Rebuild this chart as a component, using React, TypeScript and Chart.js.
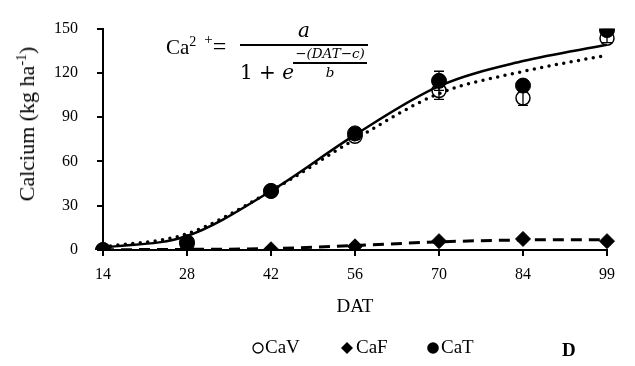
import React, { useEffect, useRef } from "react";
import { Chart, registerables } from "chart.js";

Chart.register(...registerables);

const categories = ["14", "28", "42", "56", "70", "84", "99"];
const caV = [0, 4, 40, 77, 108, 103, 143.5];
const caVErr = [0, 1, 1.5, 2, 6, 5, 3];
const caF = [0, 0, 0.5, 2.5, 6, 7.5, 6];
const caT = [0, 5.3, 40, 79, 114.6, 111.4, 149];
const caTErr = [0, 1, 1.5, 2, 6.5, 3, 0.5];
const fitCaV = [2, 11, 40, 75, 106, 121, 132];
const fitCaT = [1.5, 9.5, 40, 78, 111, 128, 139];
const fitCaF = [0.2, 0.4, 1, 3, 5.5, 6.8, 7];
const yTicks = [0, 30, 60, 90, 120, 150];

const FONT = "'Liberation Serif', 'Times New Roman', serif";

const errorBars = {
  id: "errorBars",
  afterDatasetsDraw(chart: any) {
    const ctx = chart.ctx;
    const y = chart.scales.y;
    const pairs: [number, number[]][] = [
      [0, caVErr],
      [2, caTErr],
    ];
    ctx.save();
    ctx.strokeStyle = "#000";
    ctx.lineWidth = 1.3;
    pairs.forEach(([di, errs]) => {
      const meta = chart.getDatasetMeta(di);
      const data = chart.data.datasets[di].data as number[];
      meta.data.forEach((pt: any, i: number) => {
        const e = errs[i];
        if (!e) return;
        const x = pt.x;
        const yTop = y.getPixelForValue(data[i] + e);
        const yBot = y.getPixelForValue(data[i] - e);
        ctx.beginPath();
        ctx.moveTo(x, yTop);
        ctx.lineTo(x, yBot);
        ctx.moveTo(x - 5, yTop);
        ctx.lineTo(x + 5, yTop);
        ctx.moveTo(x - 5, yBot);
        ctx.lineTo(x + 5, yBot);
        ctx.stroke();
      });
    });
    ctx.restore();
  },
};

const customLegend = {
  id: "customLegend",
  afterDraw(chart: any) {
    const ctx = chart.ctx;
    ctx.save();
    ctx.font = `19px ${FONT}`;
    ctx.textBaseline = "middle";
    ctx.fillStyle = "#000";
    const cy = 348;
    // CaV
    ctx.lineWidth = 1.3;
    ctx.strokeStyle = "#000";
    ctx.beginPath();
    ctx.arc(258, cy, 5, 0, Math.PI * 2);
    ctx.stroke();
    ctx.fillText(chart.data.datasets[0].label, 265, cy);
    // CaF
    ctx.beginPath();
    ctx.moveTo(347, cy - 6);
    ctx.lineTo(353, cy);
    ctx.lineTo(347, cy + 6);
    ctx.lineTo(341, cy);
    ctx.closePath();
    ctx.fill();
    ctx.fillText(chart.data.datasets[1].label, 356, cy);
    // CaT
    ctx.beginPath();
    ctx.arc(433, cy, 5.8, 0, Math.PI * 2);
    ctx.fill();
    ctx.fillText(chart.data.datasets[2].label, 441, cy);
    // panel letter
    ctx.font = `bold 19px ${FONT}`;
    ctx.fillText("D", 562, cy + 3);
    ctx.restore();
  },
};

export default function App() {
  const ref = useRef<HTMLCanvasElement>(null);

  useEffect(() => {
    document.body.style.margin = "0";
    const chart = new Chart(ref.current as HTMLCanvasElement, {
      type: "line",
      data: {
        labels: categories,
        datasets: [
          {
            label: "CaV",
            data: caV,
            showLine: false,
            pointStyle: "circle",
            pointRadius: 7,
            pointBackgroundColor: "rgba(255,255,255,0)",
            pointBorderColor: "#000",
            pointBorderWidth: 1.5,
            order: 3,
          },
          {
            label: "CaF",
            data: caF,
            showLine: false,
            pointStyle: "rectRot",
            pointRadius: 7.5,
            pointBackgroundColor: "#000",
            pointBorderColor: "#000",
            pointBorderWidth: 1,
            order: 2,
          },
          {
            label: "CaT",
            data: caT,
            showLine: false,
            pointStyle: "circle",
            pointRadius: 7.5,
            pointBackgroundColor: "#000",
            pointBorderColor: "#000",
            pointBorderWidth: 1,
            order: 1,
          },
          {
            label: "fitCaT",
            data: fitCaT,
            borderColor: "#000",
            borderWidth: 2.5,
            pointRadius: 0,
            cubicInterpolationMode: "monotone",
            order: 10,
          },
          {
            label: "fitCaV",
            data: fitCaV,
            borderColor: "#000",
            borderWidth: 3.5,
            borderDash: [0, 7.5],
            borderCapStyle: "round",
            pointRadius: 0,
            cubicInterpolationMode: "monotone",
            order: 11,
          },
          {
            label: "fitCaF",
            data: fitCaF,
            borderColor: "#000",
            borderWidth: 3,
            borderDash: [11, 7],
            pointRadius: 0,
            cubicInterpolationMode: "monotone",
            order: 12,
          },
        ],
      },
      options: {
        responsive: false,
        animation: false,
        devicePixelRatio: 1,
        layout: { padding: { left: 0, right: 28, top: 17, bottom: 0 } },
        plugins: {
          legend: { display: false },
          tooltip: { enabled: false },
        },
        scales: {
          x: {
            type: "category",
            offset: false,
            grid: {
              display: true,
              drawOnChartArea: false,
              drawTicks: true,
              tickLength: 6,
              color: "#000",
              lineWidth: 2,
            },
            border: { display: true, color: "#000", width: 2 },
            ticks: {
              color: "#000",
              font: { family: FONT, size: 16 },
              padding: 9,
              maxRotation: 0,
              autoSkip: false,
            },
            title: {
              display: true,
              text: "DAT",
              color: "#000",
              font: { family: FONT, size: 19 },
              padding: { top: 0, bottom: 48 },
            },
            afterFit(scale: any) {
              scale.height = 116;
            },
          },
          y: {
            min: 0,
            max: 150,
            afterBuildTicks(scale: any) {
              scale.ticks = yTicks.map((v) => ({ value: v }));
            },
            grid: {
              display: true,
              drawOnChartArea: false,
              drawTicks: true,
              tickLength: 6,
              color: "#000",
              lineWidth: 2,
            },
            border: { display: true, color: "#000", width: 2 },
            ticks: {
              color: "#000",
              font: { family: FONT, size: 16 },
              padding: 19,
            },
            afterFit(scale: any) {
              scale.width = 103;
            },
          },
        },
      },
      plugins: [errorBars, customLegend],
    });
    return () => chart.destroy();
  }, []);

  const mathFont = "'DejaVu Serif', 'Liberation Serif', serif";

  return (
    <div style={{ position: "relative", width: 635, height: 366, overflow: "hidden", background: "#fff" }}>
      <canvas ref={ref} width={635} height={366} style={{ display: "block", width: 635, height: 366 }} />
      <div
        style={{
          position: "absolute",
          left: 27,
          top: 124,
          transform: "translate(-50%, -50%) rotate(-90deg)",
          whiteSpace: "nowrap",
          fontFamily: FONT,
          fontSize: 22,
          color: "#000",
          lineHeight: "26px",
        }}
      >
        Calcium (kg ha<sup style={{ fontSize: 14, verticalAlign: "8px", lineHeight: 0 }}>-1</sup>)
      </div>
      <div
        style={{
          position: "absolute",
          left: 166,
          top: 33,
          fontFamily: FONT,
          fontSize: 21,
          lineHeight: "26px",
          whiteSpace: "nowrap",
          color: "#000",
        }}
      >
        Ca<sup style={{ fontSize: 14, verticalAlign: "8px", lineHeight: 0 }}>2</sup>
        <sup style={{ fontSize: 15, verticalAlign: "10px", lineHeight: 0, marginLeft: 8 }}>+</sup>
        <span style={{ fontSize: 24 }}>=</span>
      </div>
      <div
        style={{
          position: "absolute",
          left: 240,
          top: 18,
          width: 128,
          textAlign: "center",
          fontFamily: mathFont,
          fontStyle: "italic",
          fontSize: 20,
          lineHeight: "24px",
          color: "#000",
        }}
      >
        a
      </div>
      <div style={{ position: "absolute", left: 240, top: 44, width: 128, height: 2, background: "#000" }} />
      <div
        style={{
          position: "absolute",
          left: 240,
          top: 60,
          fontFamily: mathFont,
          fontSize: 20,
          lineHeight: "24px",
          whiteSpace: "nowrap",
          color: "#000",
        }}
      >
        1 + <span style={{ fontStyle: "italic" }}>e</span>
      </div>
      <div
        style={{
          position: "absolute",
          left: 292,
          top: 45,
          width: 76,
          textAlign: "center",
          fontFamily: mathFont,
          fontStyle: "italic",
          fontSize: 13.5,
          lineHeight: "16px",
          whiteSpace: "nowrap",
          color: "#000",
        }}
      >
        −(DAT−c)
      </div>
      <div style={{ position: "absolute", left: 293, top: 62, width: 74, height: 1.5, background: "#000" }} />
      <div
        style={{
          position: "absolute",
          left: 293,
          top: 64,
          width: 74,
          textAlign: "center",
          fontFamily: mathFont,
          fontStyle: "italic",
          fontSize: 13.5,
          lineHeight: "16px",
          color: "#000",
        }}
      >
        b
      </div>
    </div>
  );
}
